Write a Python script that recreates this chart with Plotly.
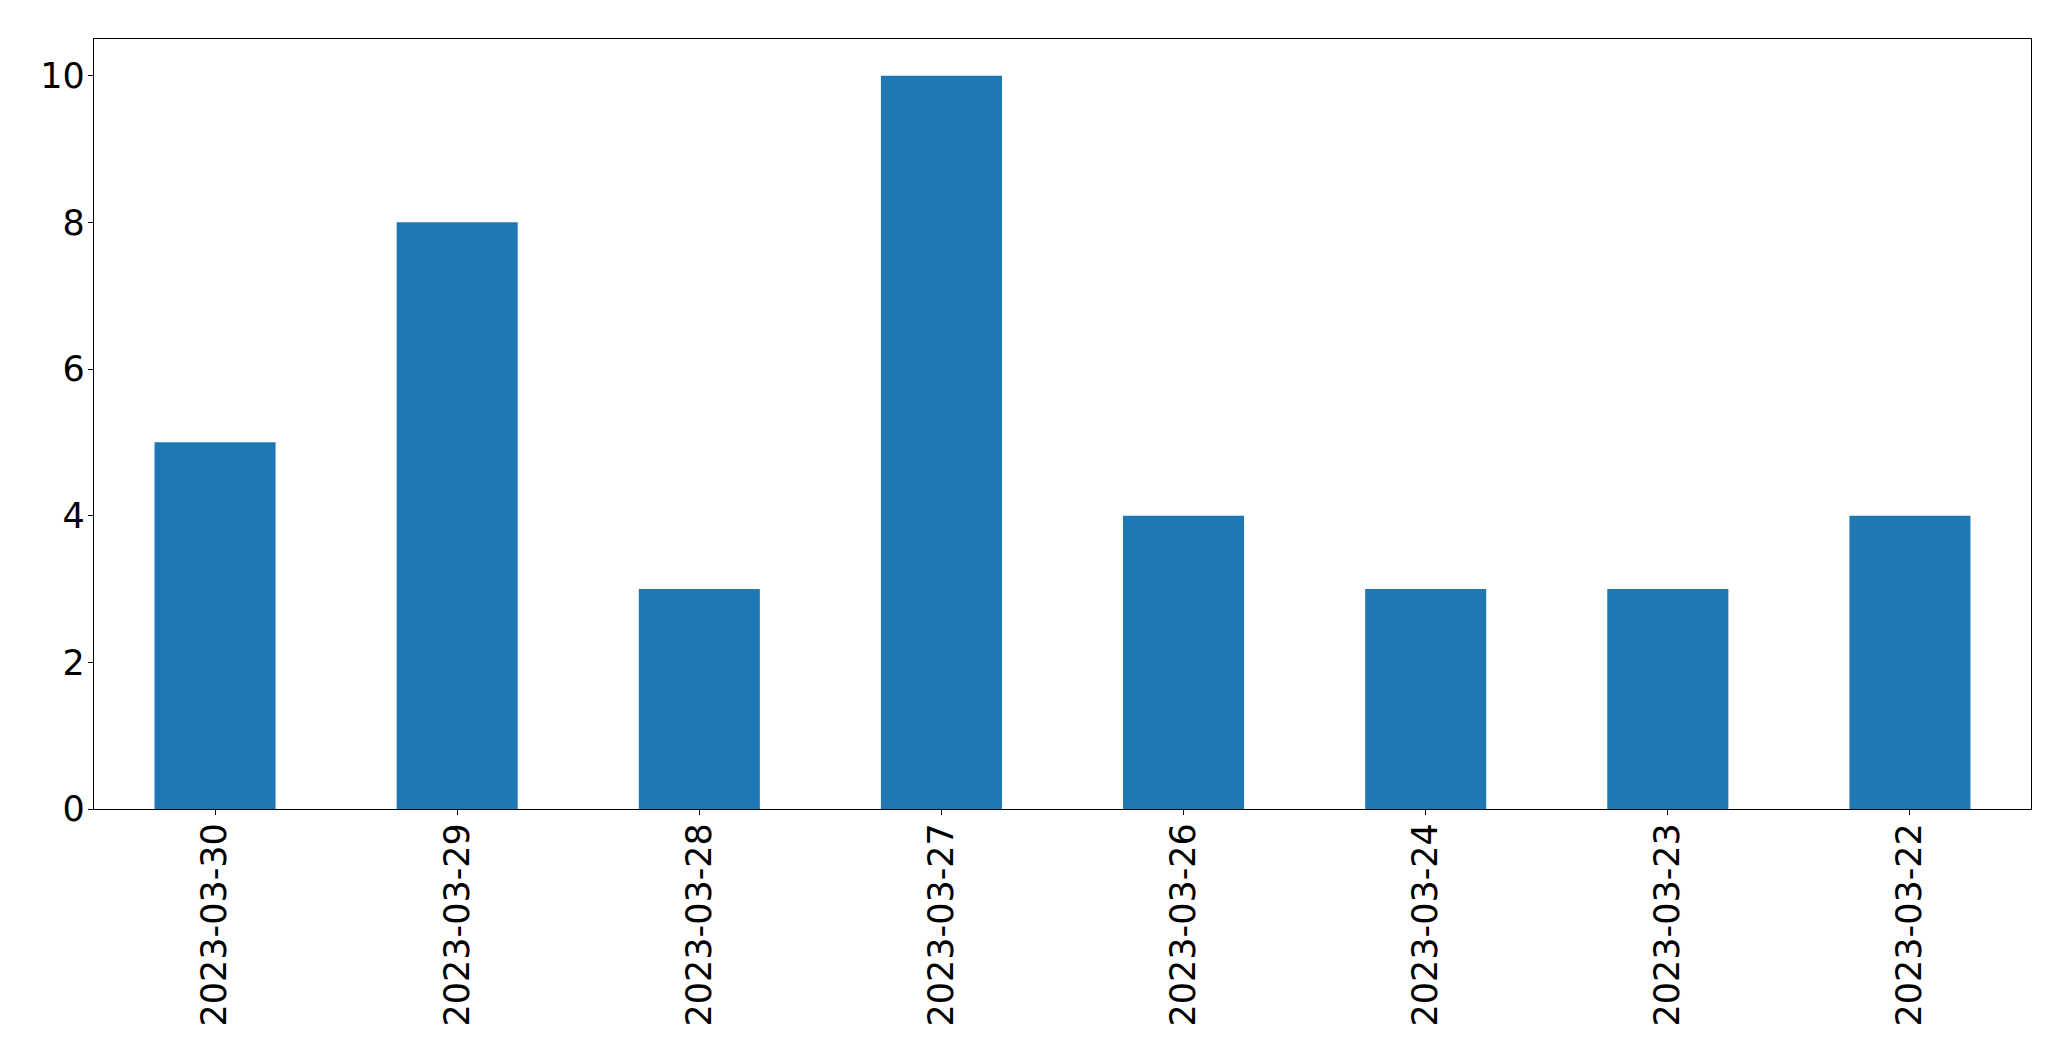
import plotly.graph_objects as go

dates = ["2023-03-30", "2023-03-29", "2023-03-28", "2023-03-27",
         "2023-03-26", "2023-03-24", "2023-03-23", "2023-03-22"]
counts = [5, 8, 3, 10, 4, 3, 3, 4]
y_ticks = [0, 2, 4, 6, 8, 10]

fig = go.Figure(go.Bar(x=dates, y=counts, width=0.5, marker_color="#1f77b4",
                       marker_line_width=0))

axis_common = dict(showline=True, linecolor="black", linewidth=1.3, mirror=True,
                   ticks="outside", ticklen=5, tickwidth=1.3, tickcolor="black",
                   showgrid=False, zeroline=False,
                   tickfont=dict(family="DejaVu Sans", size=35, color="black"))

fig.update_layout(
    width=2055, height=1045,
    margin=dict(l=86, r=32, t=31, b=244),
    paper_bgcolor="white", plot_bgcolor="white",
    showlegend=False,
    xaxis=dict(type="category", tickangle=-90, range=[-0.5, 7.5],
               ticklabelstandoff=-6, **axis_common),
    yaxis=dict(range=[0, 10.5], tickvals=y_ticks, ticktext=[str(v) for v in y_ticks],
               ticklabelstandoff=-4, **axis_common),
)

fig.write_html("out.html")
